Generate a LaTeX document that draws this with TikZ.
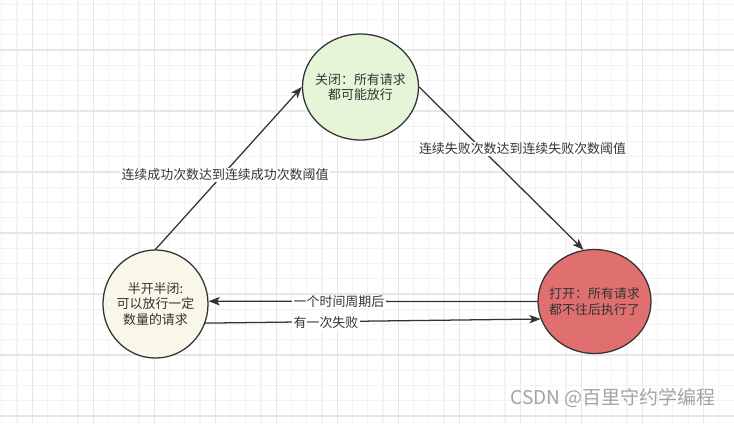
\documentclass[tikz,border=0pt]{standalone}
\usepackage{fontspec}
\setmainfont{Noto Sans CJK SC}
\usetikzlibrary{%
  arrows.meta,%
  shapes.geometric% wg. ellipse
}
\definecolor{closedgreen}{HTML}{E6F5D8}
\definecolor{halfcream}{HTML}{F9F7E8}
\definecolor{openred}{HTML}{E07070}
\definecolor{linegray}{HTML}{333333}
\definecolor{gridminor}{HTML}{F3F3F3}
\definecolor{gridmajor}{HTML}{E6E6E6}
\definecolor{markgray}{HTML}{A3A3A3}

\begin{document}
\begin{tikzpicture}[
  x=0.025cm, y=-0.025cm,
  font=\fontsize{9.2}{10.8}\selectfont, text=linegray,
  >={Stealth[length=8pt,width=6pt,inset=2pt]}, line cap=round,
  state/.style={ellipse, draw=linegray, line width=0.9pt, inner sep=-6pt, align=center},
  trans/.style={->, draw=linegray, line width=0.9pt},
  tlabel/.style={fill=white, inner sep=1pt}
]

\fill[white] (0,0) rectangle (734,423);
\useasboundingbox (0,0) rectangle (734,423);

\foreach \k in {0,...,47}
  \draw[gridminor, line width=0.8pt] ({1.8+15.25*\k},0) -- ({1.8+15.25*\k},423);
\foreach \k in {0,...,27}
  \draw[gridminor, line width=0.8pt] (0,{4.25+15.25*\k}) -- (734,{4.25+15.25*\k});
\foreach \k in {0,...,11}
  \draw[gridmajor, line width=0.8pt] ({32.3+61*\k},0) -- ({32.3+61*\k},423);
\foreach \k in {0,...,6}
  \draw[gridmajor, line width=0.8pt] (0,{50+61*\k}) -- (734,{50+61*\k});

\node[state, fill=closedgreen, minimum width=2.9cm, minimum height=2.65cm] (closed) at (360.5,87) {关闭：所有请求\\都可能放行};
\node[state, fill=halfcream, minimum width=2.625cm, minimum height=2.7cm] (half) at (155.5,304) {半开半闭:\\可以放行一定\\数量的请求};
\node[state, fill=openred, minimum width=2.825cm, minimum height=2.6cm] (open) at (594.5,301.5) {打开：所有请求\\都不往后执行了};

\draw[trans] (half.north) -- (closed.west);
\draw[trans] (closed.east) -- (open.102);
\draw[trans] (open.west) -- (half.3);
\draw[trans] (half.-21) -- (open.198);

\node[tlabel] (succlabel) at (225,175) {连续成功次数达到连续成功次数阈值};
\node[tlabel] (faillabel) at (522.5,149) {连续失败次数达到连续失败次数阈值};
\node[tlabel] (periodlabel) at (339,302) {一个时间周期后};
\node[tlabel] (failoncelabel) at (326,323) {有一次失败};

\node[text=markgray, font=\fontsize{13.5}{16}\selectfont] (watermark) at (613,398) {CSDN @百里守约学编程};
\end{tikzpicture}
\end{document}
